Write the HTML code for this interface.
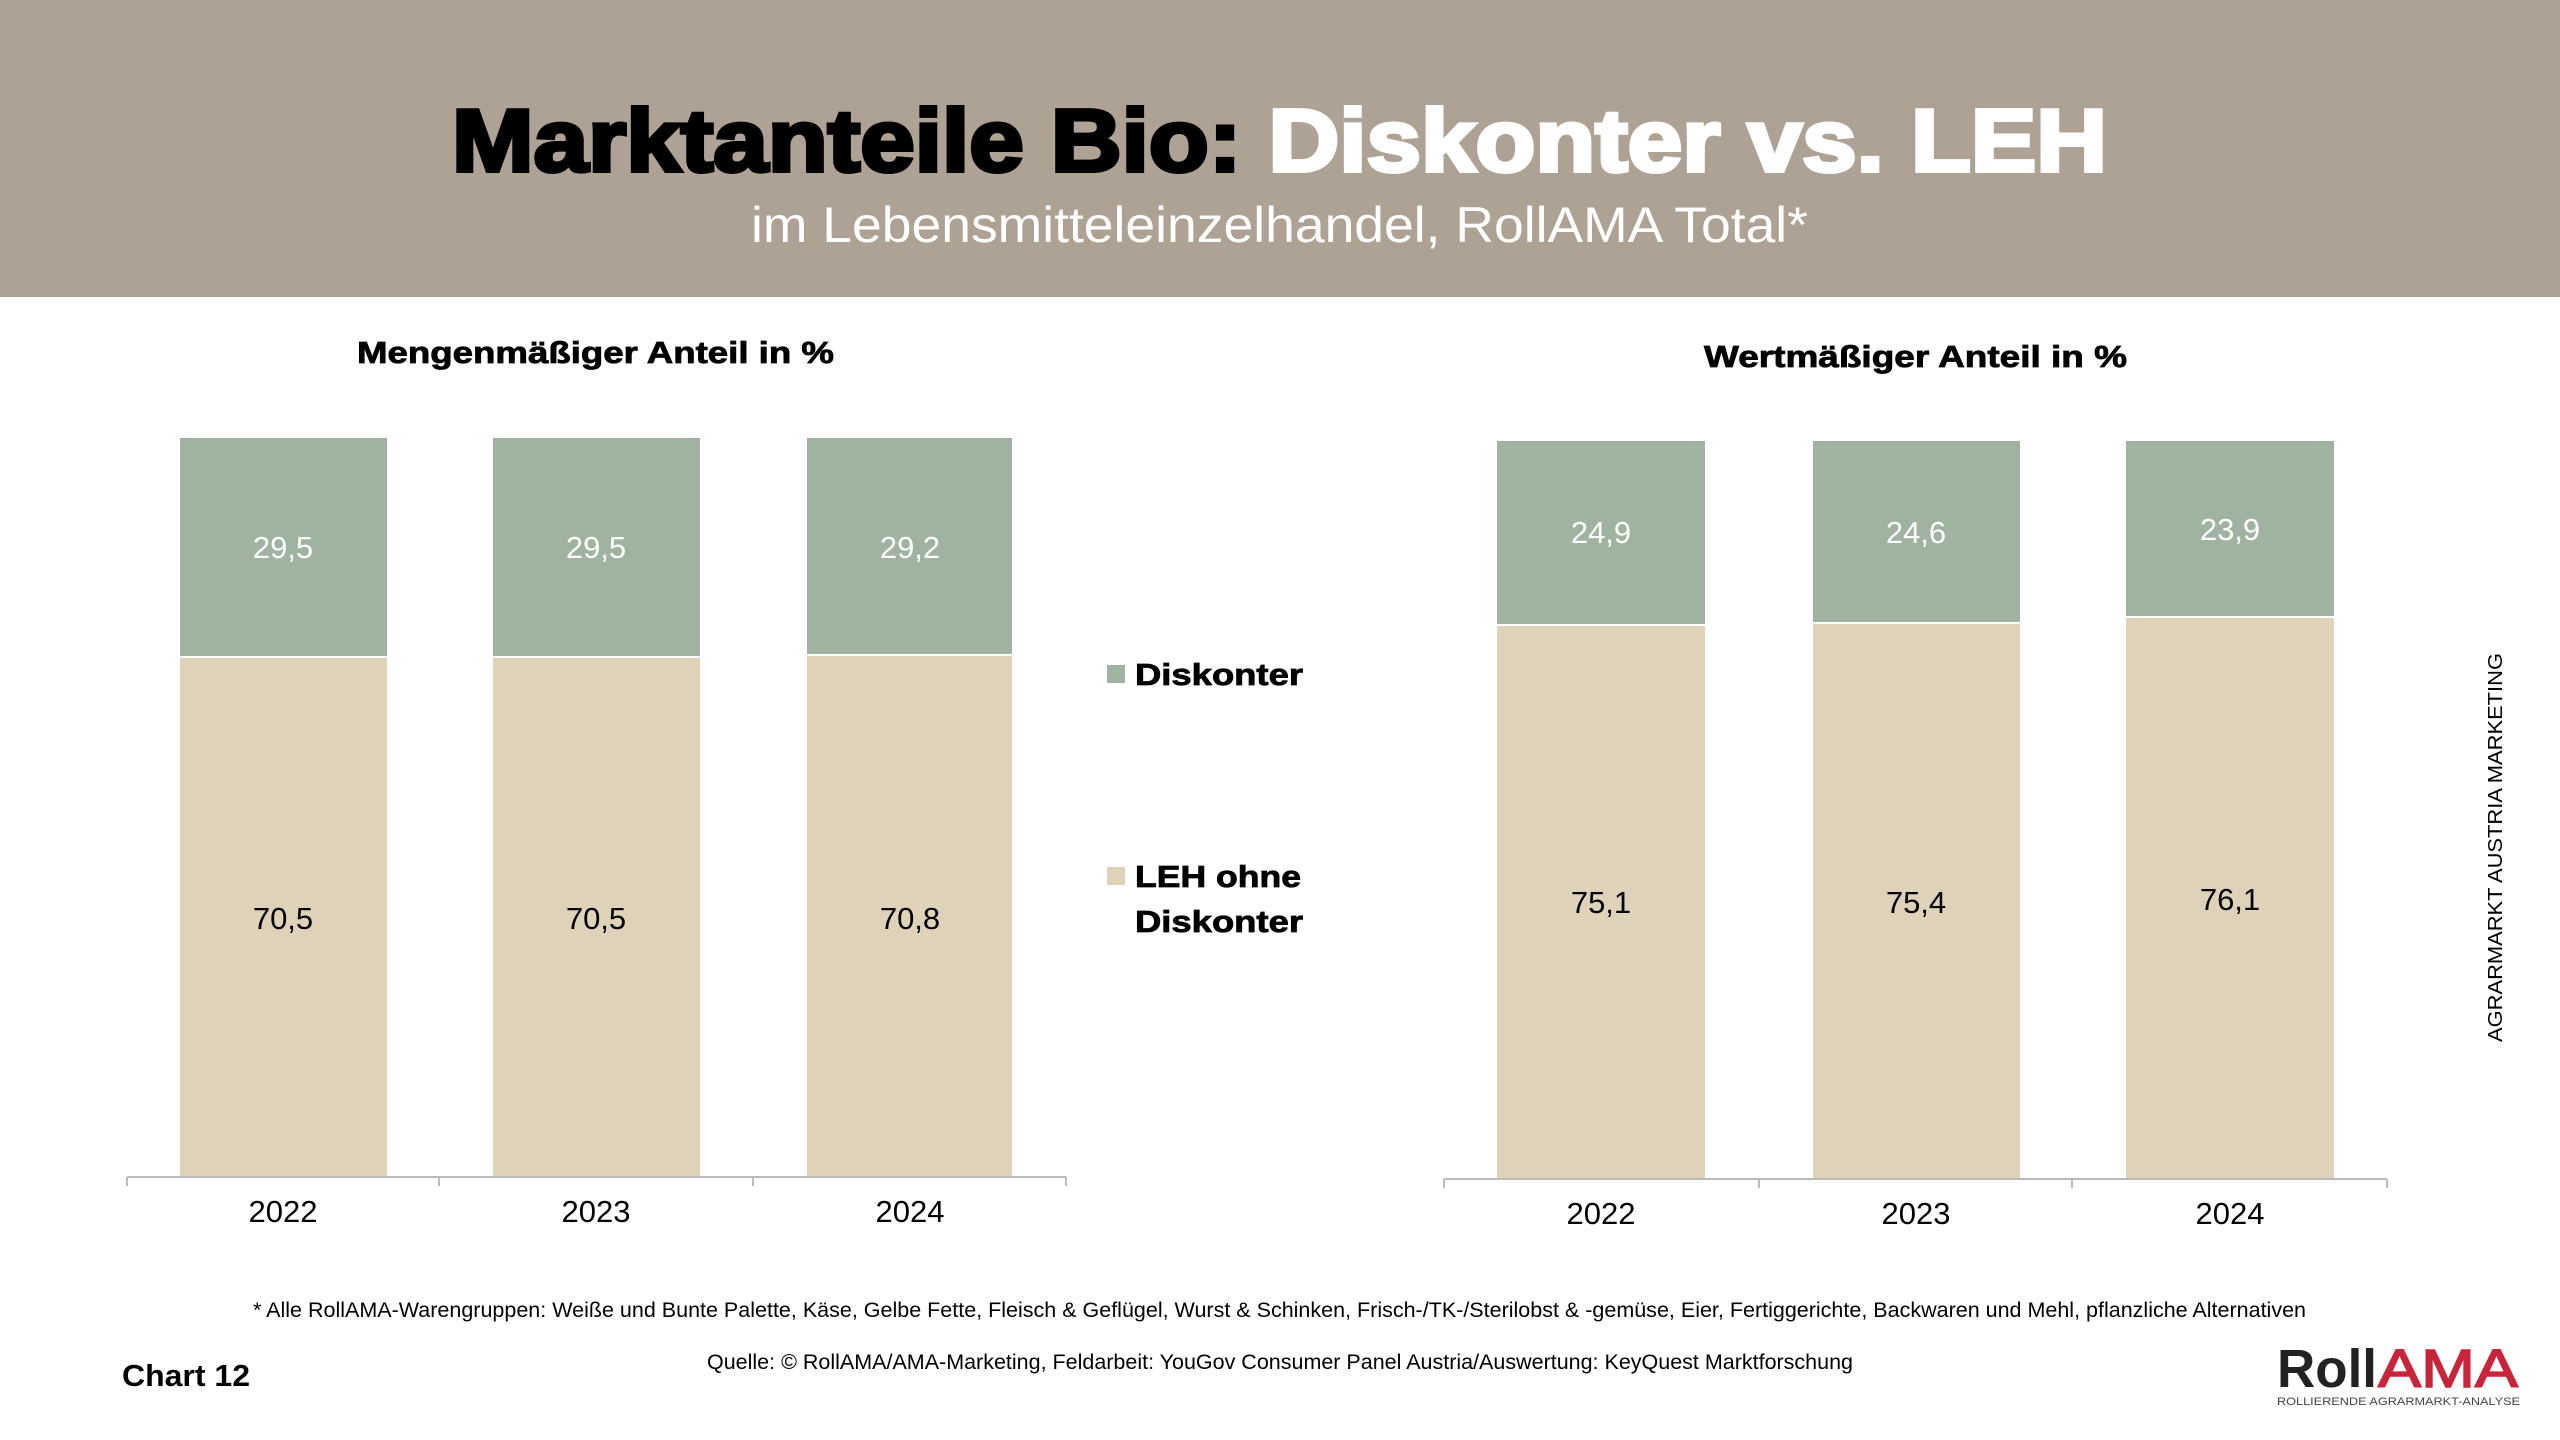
<!DOCTYPE html>
<html><head><meta charset="utf-8"><style>
html,body{margin:0;padding:0;background:#fff}
svg{display:block}
text{font-family:"Liberation Sans",Arial,sans-serif}
</style></head><body>
<svg width="2560" height="1440" viewBox="0 0 2560 1440" xmlns="http://www.w3.org/2000/svg">
<rect x="0" y="0" width="2560" height="297" fill="#ADA293"/>
<text x="452" y="171" font-size="88" font-weight="bold" stroke-width="4" textLength="1655" lengthAdjust="spacingAndGlyphs"><tspan fill="#000" stroke="#000">Marktanteile Bio: </tspan><tspan fill="#fff" stroke="#fff">Diskonter vs. LEH</tspan></text>
<text x="751" y="242" font-size="50" fill="#fff" textLength="1057" lengthAdjust="spacingAndGlyphs">im Lebensmitteleinzelhandel, RollAMA Total*</text>

<text x="357" y="363" font-size="31" font-weight="bold" stroke="#000" stroke-width="0.8" textLength="477" lengthAdjust="spacingAndGlyphs">Mengenmäßiger Anteil in %</text>
<text x="1704" y="367" font-size="31" font-weight="bold" stroke="#000" stroke-width="0.8" textLength="423" lengthAdjust="spacingAndGlyphs">Wertmäßiger Anteil in %</text>

<g>
<rect x="180" y="438" width="207" height="218" fill="#A0B3A0"/><rect x="180" y="658" width="207" height="518" fill="#DED3B9"/>
<rect x="493" y="438" width="207" height="218" fill="#A0B3A0"/><rect x="493" y="658" width="207" height="518" fill="#DED3B9"/>
<rect x="807" y="438" width="205" height="216" fill="#A0B3A0"/><rect x="807" y="656" width="205" height="520" fill="#DED3B9"/>
<line x1="127" y1="1177" x2="1066" y2="1177" stroke="#bbb" stroke-width="2"/>
<g stroke="#bbb" stroke-width="2"><line x1="127" y1="1177" x2="127" y2="1186"/><line x1="439" y1="1177" x2="439" y2="1186"/><line x1="753" y1="1177" x2="753" y2="1186"/><line x1="1066" y1="1177" x2="1066" y2="1186"/></g>
<g font-size="31" text-anchor="middle" fill="#fff"><text x="283" y="558">29,5</text><text x="596" y="558">29,5</text><text x="910" y="558">29,2</text></g>
<g font-size="31" text-anchor="middle" fill="#000"><text x="283" y="929">70,5</text><text x="596" y="929">70,5</text><text x="910" y="929">70,8</text>
<text x="283" y="1222">2022</text><text x="596" y="1222">2023</text><text x="910" y="1222">2024</text></g>
</g>

<g>
<rect x="1497" y="441" width="208" height="183" fill="#A0B3A0"/><rect x="1497" y="626" width="208" height="553" fill="#DED3B9"/>
<rect x="1813" y="441" width="207" height="181" fill="#A0B3A0"/><rect x="1813" y="624" width="207" height="555" fill="#DED3B9"/>
<rect x="2126" y="441" width="208" height="175" fill="#A0B3A0"/><rect x="2126" y="618" width="208" height="561" fill="#DED3B9"/>
<line x1="1444" y1="1179" x2="2387" y2="1179" stroke="#bbb" stroke-width="2"/>
<g stroke="#bbb" stroke-width="2"><line x1="1444" y1="1179" x2="1444" y2="1188"/><line x1="1759" y1="1179" x2="1759" y2="1188"/><line x1="2072" y1="1179" x2="2072" y2="1188"/><line x1="2387" y1="1179" x2="2387" y2="1188"/></g>
<g font-size="31" text-anchor="middle" fill="#fff"><text x="1601" y="543">24,9</text><text x="1916" y="543">24,6</text><text x="2230" y="540">23,9</text></g>
<g font-size="31" text-anchor="middle" fill="#000"><text x="1601" y="913">75,1</text><text x="1916" y="913">75,4</text><text x="2230" y="910">76,1</text>
<text x="1601" y="1224">2022</text><text x="1916" y="1224">2023</text><text x="2230" y="1224">2024</text></g>
</g>

<rect x="1107" y="665" width="18" height="18" fill="#A0B3A0"/>
<text x="1135" y="685" font-size="31" font-weight="bold" stroke="#000" stroke-width="0.8" textLength="168" lengthAdjust="spacingAndGlyphs">Diskonter</text>
<rect x="1107" y="867" width="18" height="18" fill="#DED3B9"/>
<text x="1135" y="887" font-size="31" font-weight="bold" stroke="#000" stroke-width="0.8" textLength="166" lengthAdjust="spacingAndGlyphs">LEH ohne</text>
<text x="1135" y="932" font-size="31" font-weight="bold" stroke="#000" stroke-width="0.8" textLength="168" lengthAdjust="spacingAndGlyphs">Diskonter</text>

<text transform="translate(2502,1042) rotate(-90)" font-size="20" textLength="389" lengthAdjust="spacingAndGlyphs">AGRARMARKT AUSTRIA MARKETING</text>

<text x="253" y="1317" font-size="21" textLength="2053" lengthAdjust="spacingAndGlyphs">* Alle RollAMA-Warengruppen: Weiße und Bunte Palette, Käse, Gelbe Fette, Fleisch &amp; Geflügel, Wurst &amp; Schinken, Frisch-/TK-/Sterilobst &amp; -gemüse, Eier, Fertiggerichte, Backwaren und Mehl, pflanzliche Alternativen</text>
<text x="707" y="1369" font-size="21" textLength="1146" lengthAdjust="spacingAndGlyphs">Quelle: © RollAMA/AMA-Marketing, Feldarbeit: YouGov Consumer Panel Austria/Auswertung: KeyQuest Marktforschung</text>
<text x="122" y="1386" font-size="31" font-weight="bold" textLength="128" lengthAdjust="spacingAndGlyphs">Chart 12</text>

<text x="2277" y="1387" font-size="54" font-weight="bold" fill="#222" textLength="100" lengthAdjust="spacingAndGlyphs">Roll</text>
<text x="2378" y="1387" font-size="54" fill="#C8243A" stroke="#C8243A" stroke-width="1.5" textLength="140" lengthAdjust="spacingAndGlyphs">AMA</text>
<text x="2277" y="1405" font-size="11" fill="#444" textLength="243" lengthAdjust="spacingAndGlyphs">ROLLIERENDE AGRARMARKT-ANALYSE</text>
</svg>
</body></html>
